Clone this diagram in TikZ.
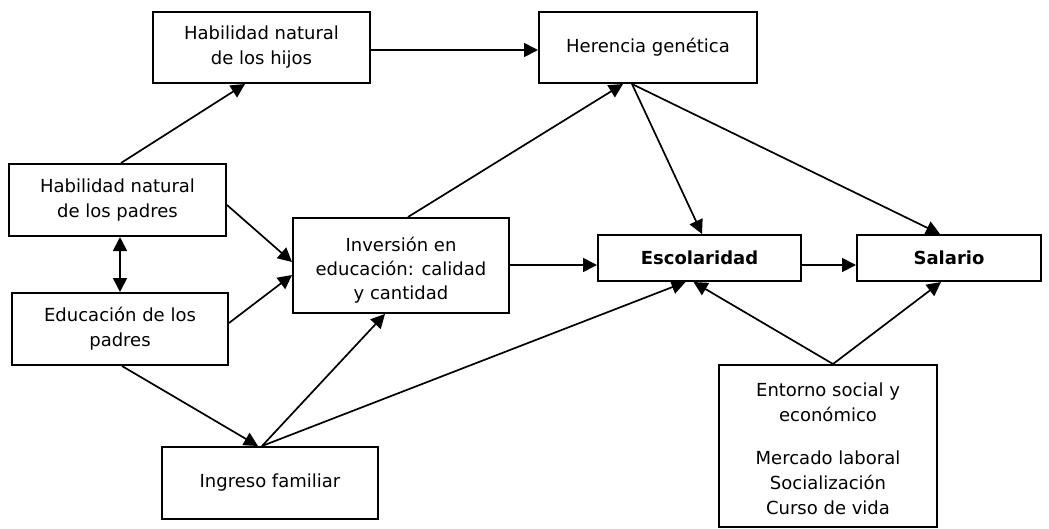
\documentclass[tikz,border=0pt]{standalone}
\usepackage{fontspec}
\setmainfont{DejaVu Sans}
\usetikzlibrary{arrows.meta,calc}
\begin{document}
\begin{tikzpicture}[x=1pt,y=-1pt,
  box/.style={draw,line width=2pt,rectangle,align=center,inner sep=0pt,
    font=\fontsize{18}{25}\selectfont},
  arr/.style={line width=1.7pt,-{Triangle[length=14pt,width=14pt]}},
  darr/.style={line width=1.7pt,{Triangle[length=14pt,width=14pt]}-{Triangle[length=14pt,width=14pt]}}]
\useasboundingbox (0,0) rectangle (1049,528);
\node[box,minimum width=217pt,minimum height=71pt] (hijos) at (261.5,47.5) {Habilidad natural\\de los hijos};
\node[box,minimum width=218pt,minimum height=71pt] (her) at (648,47.5) {Herencia genética};
\node[box,minimum width=217pt,minimum height=72pt] (padres) at (117.5,200) {Habilidad natural\\de los padres};
\node[box,minimum width=216pt,minimum height=95pt] (inv) at (401,265.5) {};
\node[align=center,inner sep=0pt,font=\fontsize{18}{24}\selectfont] (invt) at (401,270) {Inversión en\\educación: calidad\\y cantidad};
\node[box,minimum width=216pt,minimum height=72pt] (edu) at (120,329) {Educación de los\\padres};
\node[box,minimum width=216pt,minimum height=72pt] (ing) at (270,483) {Ingreso familiar};
\node[box,minimum width=203pt,minimum height=46pt,font=\fontsize{18}{25}\selectfont\bfseries] (esc) at (699.5,258) {Escolaridad};
\node[box,minimum width=184pt,minimum height=46pt,font=\fontsize{18}{25}\selectfont\bfseries] (sal) at (949,258) {Salario};
\node[box,minimum width=218pt,minimum height=162pt] (ent) at (828,446) {};
\node[align=center,inner sep=0pt,font=\fontsize{18}{25}\selectfont] (entt) at (828,449) {Entorno social y\\económico\\[18pt]Mercado laboral\\Socialización\\Curso de vida};

\draw[arr] ([yshift=-2.5pt]hijos.east) -- ([yshift=-2.5pt]her.west);
\draw[arr] ([xshift=3.5pt]padres.north) -- ([xshift=-16.5pt]hijos.south);
\draw[arr] ([yshift=-5pt]padres.east) -- ([yshift=3.5pt]inv.west);
\draw[darr] (padres.south -| edu.north) -- (edu.north);
\draw[arr] ([yshift=6pt]edu.east) -- ([yshift=-9.5pt]inv.west);
\draw[arr] ([xshift=7pt]inv.north) -- ([xshift=-25pt]her.south);
\draw[arr] ([xshift=-16pt]her.south) -- ([xshift=2.5pt]esc.north);
\draw[arr] ([xshift=-16pt]her.south) -- ([xshift=-9pt]sal.north);
\draw[arr] ([yshift=-7pt]inv.east |- esc.east) -- ([yshift=-7pt]esc.west);
\draw[arr] ([yshift=-7pt]esc.east) -- ([yshift=-7pt]sal.west);
\draw[arr] ([xshift=2pt]edu.south) -- ([xshift=-12pt]ing.north);
\draw[arr] ([xshift=-8pt]ing.north) -- ([xshift=-16pt]inv.south);
\draw[arr] ([xshift=-8pt]ing.north) -- ([xshift=-14pt]esc.south);
\draw[arr] ([xshift=5pt]ent.north) -- ([xshift=-6pt]esc.south);
\draw[arr] ([xshift=5pt]ent.north) -- ([xshift=-8pt]sal.south);
\end{tikzpicture}
\end{document}
